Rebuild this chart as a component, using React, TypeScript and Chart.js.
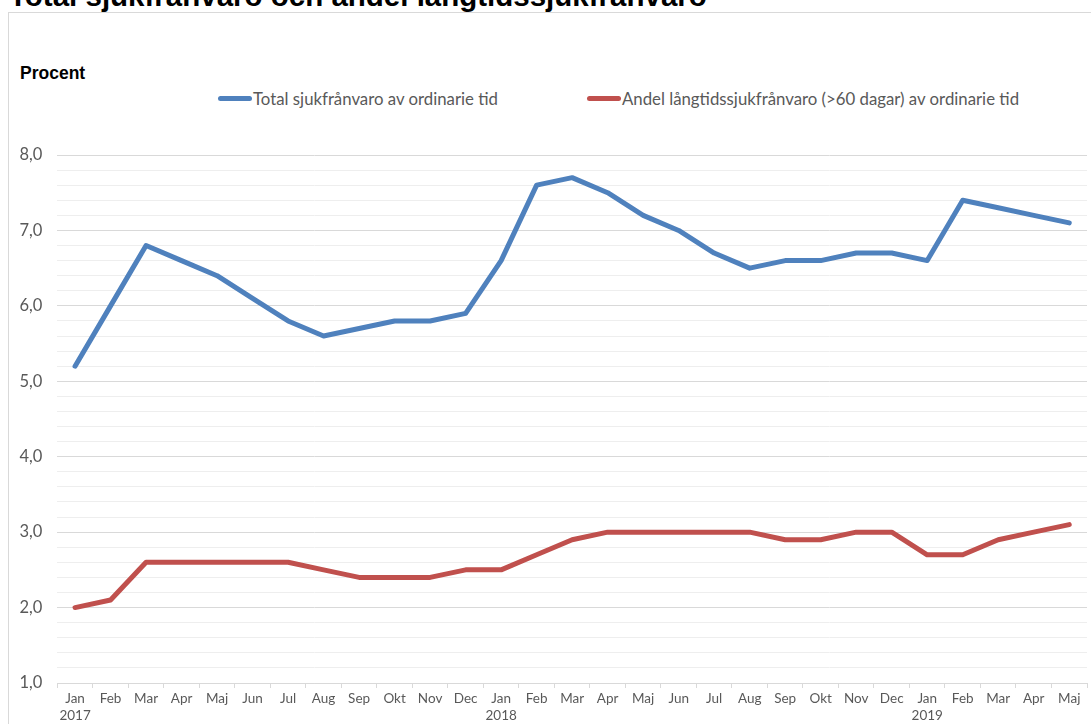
import React, { useEffect, useRef } from "react";
import { Chart, registerables } from "chart.js";

Chart.register(...registerables);

const categories: (string | string[])[] = [
  ["Jan", "2017"], "Feb", "Mar", "Apr", "Maj", "Jun", "Jul", "Aug", "Sep", "Okt", "Nov", "Dec",
  ["Jan", "2018"], "Feb", "Mar", "Apr", "Maj", "Jun", "Jul", "Aug", "Sep", "Okt", "Nov", "Dec",
  ["Jan", "2019"], "Feb", "Mar", "Apr", "Maj",
];
const totalSick = [
  5.2, 6.0, 6.8, 6.6, 6.4, 6.1, 5.8, 5.6, 5.7, 5.8, 5.8, 5.9,
  6.6, 7.6, 7.7, 7.5, 7.2, 7.0, 6.7, 6.5, 6.6, 6.6, 6.7, 6.7,
  6.6, 7.4, 7.3, 7.2, 7.1,
];
const longSick = [
  2.0, 2.1, 2.6, 2.6, 2.6, 2.6, 2.6, 2.5, 2.4, 2.4, 2.4, 2.5,
  2.5, 2.7, 2.9, 3.0, 3.0, 3.0, 3.0, 3.0, 2.9, 2.9, 3.0, 3.0,
  2.7, 2.7, 2.9, 3.0, 3.1,
];
const yMajorTicks = [1, 2, 3, 4, 5, 6, 7, 8];
const yMinorStep = 0.2;
const seriesNames = [
  "Total sjukfrånvaro av ordinarie tid",
  "Andel långtidssjukfrånvaro (>60 dagar) av ordinarie tid",
];
const seriesColors = ["#4F81BD", "#C0504D"];
const title = "Total sjukfrånvaro och andel långtidssjukfrånvaro";
const yTitle = "Procent";

const isMajor = (v: number) => yMajorTicks.some((m) => Math.abs(m - v) < 1e-6);

export default function App() {
  const ref = useRef<HTMLCanvasElement | null>(null);
  useEffect(() => {
    if (!ref.current) return;
    const yMin = yMajorTicks[0];
    const yMax = yMajorTicks[yMajorTicks.length - 1];
    const chart = new Chart(ref.current, {
      type: "line",
      data: {
        labels: categories as any,
        datasets: [0, 1].map((i) => ({
          label: seriesNames[i],
          data: i === 0 ? totalSick : longSick,
          borderColor: seriesColors[i],
          backgroundColor: seriesColors[i],
          borderWidth: 5,
          pointRadius: 0,
          borderCapStyle: "round" as const,
          borderJoinStyle: "round" as const,
          tension: 0,
        })),
      },
      options: {
        responsive: false,
        animation: false,
        maintainAspectRatio: false,
        layout: { padding: { top: 143, left: 0, right: 4, bottom: 0 } },
        plugins: { legend: { display: false }, title: { display: false }, tooltip: { enabled: false } },
        scales: {
          x: {
            type: "category",
            offset: true,
            grid: {
              offset: true,
              drawOnChartArea: false,
              drawTicks: true,
              tickLength: 5,
              color: "#d9d9d9",
            },
            border: { display: true, color: "#d9d9d9", width: 1 },
            ticks: {
              autoSkip: false,
              maxRotation: 0,
              minRotation: 0,
              padding: 2,
              color: "#595959",
              font: { family: "Lato, 'Open Sans', sans-serif", size: 13.5, lineHeight: 1.27 },
            },
            afterFit: (s: any) => {
              s.height = 41;
            },
          },
          y: {
            min: yMin,
            max: yMax,
            afterBuildTicks: (s: any) => {
              const ticks: { value: number }[] = [];
              const n = Math.round((yMax - yMin) / yMinorStep);
              for (let k = 0; k <= n; k++) ticks.push({ value: Math.round((yMin + k * yMinorStep) * 100) / 100 });
              s.ticks = ticks;
            },
            grid: {
              drawTicks: false,
              color: (ctx: any) => (ctx.tick && isMajor(ctx.tick.value) ? "#d9d9d9" : "#eeeeee"),
            },
            border: { display: false },
            ticks: {
              autoSkip: false,
              padding: 15,
              color: "#595959",
              font: { family: "Lato, 'Open Sans', sans-serif", size: 16.5 },
              callback: (v: any) => {
                const n = Number(v);
                return isMajor(n) ? n.toFixed(1).replace(".", ",") : "";
              },
            },
            afterFit: (s: any) => {
              s.width = 49.3;
            },
          },
        },
      },
    });
    return () => chart.destroy();
  }, []);

  const legendItem = (i: number, left: number) => (
    <div
      key={i}
      style={{
        position: "absolute",
        left,
        top: 88,
        height: 20,
        display: "flex",
        alignItems: "center",
        whiteSpace: "nowrap",
      }}
    >
      <span
        style={{
          display: "inline-block",
          width: 34,
          height: 5,
          borderRadius: 3,
          background: seriesColors[i],
          marginRight: 1,
        }}
      />
      <span style={{ font: "16.8px Lato, 'Open Sans', sans-serif", color: "#595959" }}>{seriesNames[i]}</span>
    </div>
  );

  return (
    <div
      style={{
        position: "fixed",
        left: 0,
        top: 0,
        width: 1091,
        height: 724,
        overflow: "hidden",
        background: "#fff",
      }}
    >
      <div
        style={{
          position: "absolute",
          left: 8,
          top: 12,
          width: 1200,
          height: 800,
          border: "1px solid #d9d9d9",
          boxSizing: "border-box",
        }}
      />
      <div
        style={{
          position: "absolute",
          left: 9,
          top: -19.5,
          font: "bold 29.5px 'Liberation Sans', Arial, sans-serif",
          lineHeight: "29px",
          color: "#000",
          whiteSpace: "nowrap",
        }}
      >
        {title}
      </div>
      <div
        style={{
          position: "absolute",
          left: 20,
          top: 63,
          font: "bold 17.5px 'Liberation Sans', Arial, sans-serif",
          lineHeight: "20px",
          color: "#000",
        }}
      >
        {yTitle}
      </div>
      {legendItem(0, 218)}
      {legendItem(1, 587)}
      <canvas
        ref={ref}
        width={1083}
        height={712}
        style={{ position: "absolute", left: 8, top: 12, width: 1083, height: 712 }}
      />
    </div>
  );
}
